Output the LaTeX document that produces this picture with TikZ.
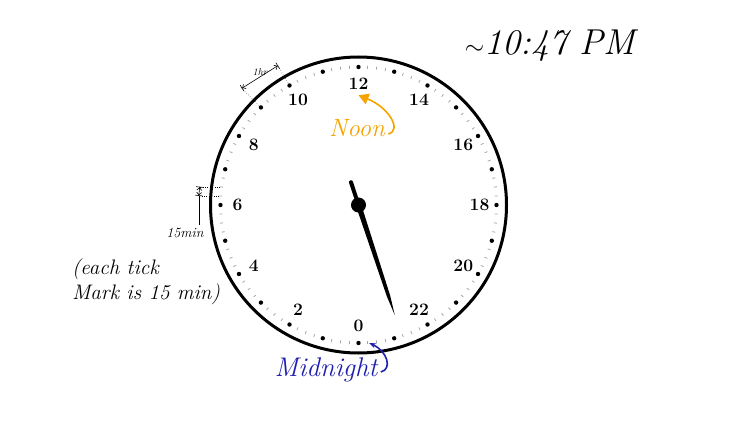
\documentclass[tikz,border=0pt]{standalone}
\usepackage{amsmath, amssymb}
\usepackage{tikz}
\usetikzlibrary{arrows.meta}
\definecolor{noonorange}{HTML}{F5A300}
\definecolor{nightblue}{HTML}{2020B0}

\begin{document}
\begin{tikzpicture}[x=1pt, y=1pt,
  hnum/.style={font=\fontsize{17.5}{17.5}\selectfont\bfseries},
  hand/.style={font=\fontsize{25}{25}\selectfont\itshape},
  tickmark/.style={gray!70, line width=0.8pt},
  dimline/.style={line width=0.6pt, {Bar[width=7pt]Straight Barb[length=2.5pt]}-{Straight Barb[length=2.5pt]Bar[width=7pt]}}]
\useasboundingbox (0,0) rectangle (734,432);
\coordinate (c) at (358.5,227);

% Clock face
\draw[line width=3pt] (c) circle (148);

% Hour dots and 15 min ticks
\foreach \h in {0,...,23} {
  \fill (c) ++({-90-15*\h}:138) circle (2.2);
  \foreach \k in {1,2,3}
    \draw[tickmark] (c) ++({-90-15*\h-3.75*\k}:136.5) -- ++({-90-15*\h-3.75*\k}:3);
}

% Hour labels
\foreach \h in {0,2,...,22}
  \path (c) ++({-90-15*\h}:121) node[hnum] (h\h) {\h};

% Hand at about 22.78 h
\begin{scope}[shift={(c)}, rotate=-71.75]
  \fill (0,2.7) -- (96,1.7) -- (116,0) -- (96,-1.7) -- (0,-2.7) -- cycle;
  \draw[line width=4pt, line cap=round] (0,0) -- (-24,0);
  \fill (0,0) circle (7.5);
\end{scope}

% Time
\node[font=\fontsize{36}{36}\selectfont\itshape] (time) at (550,386) {$\sim$10:47 PM};

% Noon
\node[hand, text=noonorange] (noon) at (357,304) {Noon};
\draw[noonorange, line width=1.6pt, -{Triangle[length=10pt, width=11pt]}]
  ([yshift=-6]noon.east) .. controls +(14,4) and +(30,-12) .. ([yshift=-2]h12.south);

% Midnight
\node[hand, text=nightblue, font=\fontsize{27}{27}\selectfont\itshape] (midnight) at (326,62) {Midnight};
\coordinate (mtip) at (369,89);
\draw[nightblue, line width=1.6pt, -{Stealth[length=7pt]}]
  ([yshift=-2]midnight.east) .. controls +(12,3) and +(18,-8) .. (mtip);

% 1 hr dimension
\coordinate (d9) at ([shift={(c)}]135:165);
\coordinate (d10) at ([shift={(c)}]120:161);
\draw[dotted] ([shift={(c)}]135:141) -- (d9);
\draw[dotted] ([shift={(c)}]120:141) -- (d10);
\draw[dimline] (d9) -- (d10);
\path (d9) -- (d10) node[midway, above=1pt, inner sep=0.5pt, font=\fontsize{10}{10}\selectfont\itshape] (lbl1) {1hr};

% 15 min dimension
\coordinate (q1) at ([shift={(c)}]{-90-15*6.25}:140);
\coordinate (q2) at ([shift={(c)}]{-90-15*6.5}:140);
\path (q1) ++(-20,0) coordinate (m1);
\path (q2) ++(-20,0) coordinate (m2);
\draw[dotted] (q1) -- (m1);
\draw[dotted] (q2) -- (m2);
\draw[dimline] (m1) -- (m2);
\node[font=\fontsize{14}{14}\selectfont\itshape] (lbl15) at (185,199) {15min};
\draw[line width=0.6pt] (m1) -- (lbl15.north -| m1);

% Note
\node[font=\fontsize{21}{25}\selectfont\itshape, align=left] (note) at (146,150) {(each tick\\ Mark is 15 min)};
\end{tikzpicture}
\end{document}
